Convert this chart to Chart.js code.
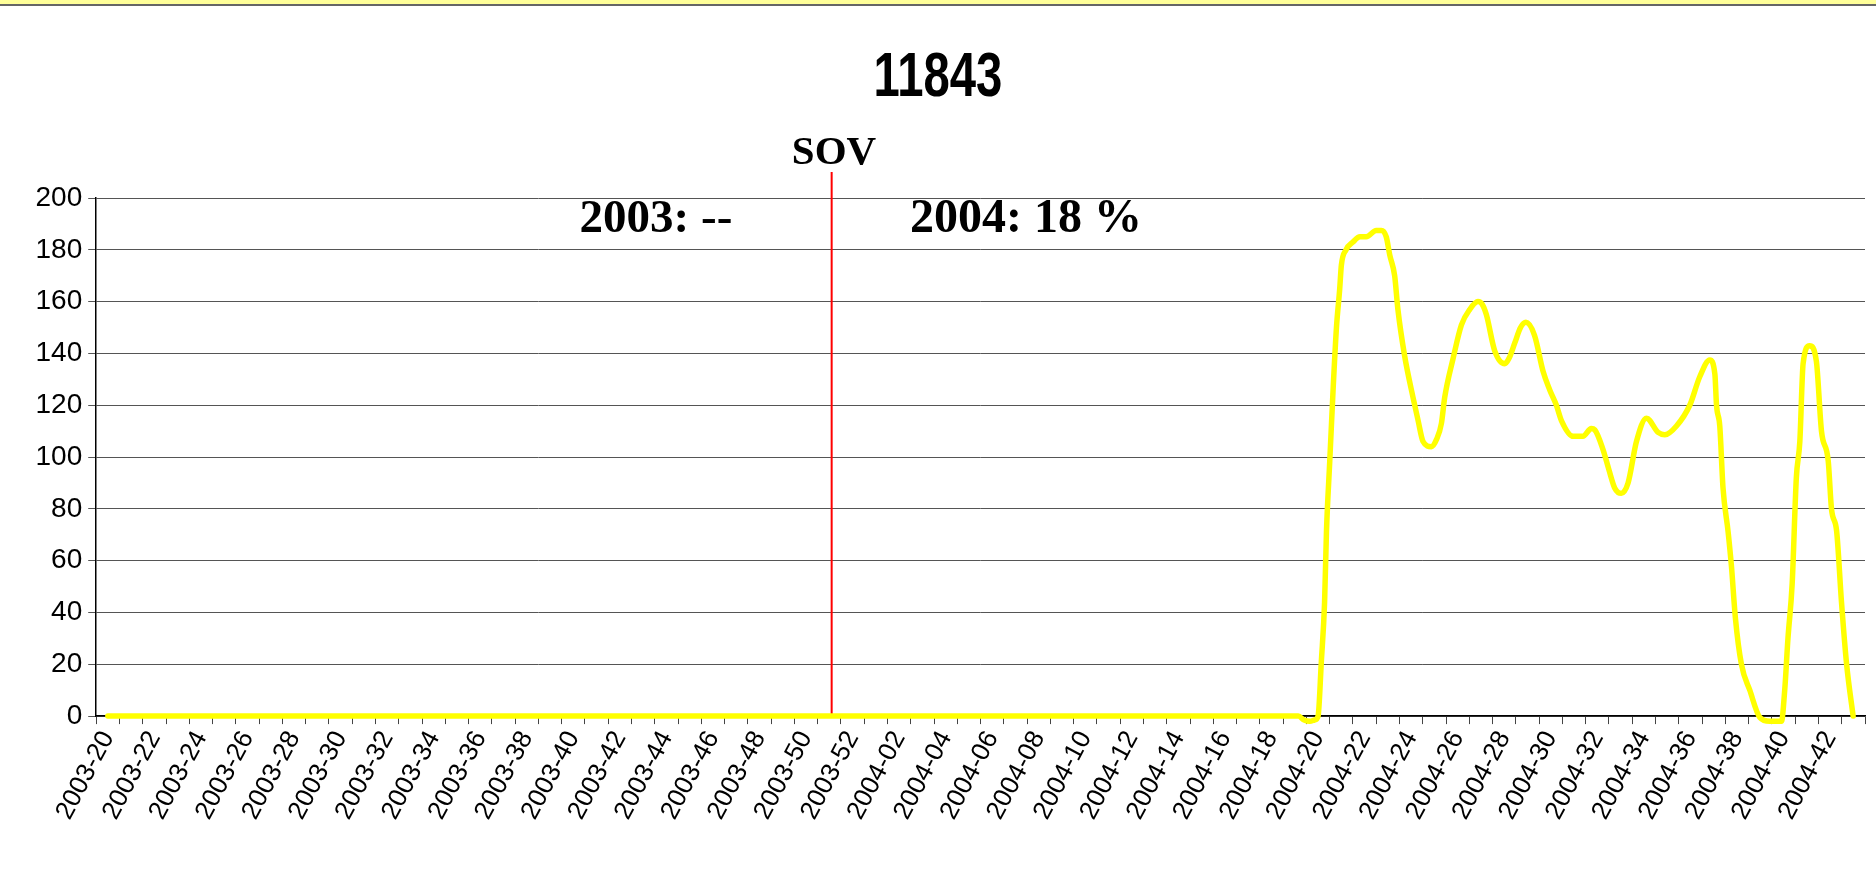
<!DOCTYPE html>
<html>
<head>
<meta charset="utf-8">
<title>11843</title>
<script src="https://cdn.jsdelivr.net/npm/chart.js@4.4.1/dist/chart.umd.min.js"></script>
<style>
  html, body { margin: 0; padding: 0; background: #fff; }
  #wrap { position: relative; width: 1876px; height: 882px; }
  #topBar { position: absolute; left: 0; top: 0; width: 100%; height: 4px; background: #ffff99; border-bottom: 2px solid #666; }
</style>
</head>
<body>
<div id="wrap">
  <canvas id="sovChart"></canvas>
  <div id="topBar"></div>
</div>
<script>
// week categories: 2003-20 .. 2004-43, only every second one is labelled
const weekLabels = [
  '2003-20','2003-21','2003-22','2003-23','2003-24','2003-25','2003-26','2003-27','2003-28','2003-29',
  '2003-30','2003-31','2003-32','2003-33','2003-34','2003-35','2003-36','2003-37','2003-38','2003-39',
  '2003-40','2003-41','2003-42','2003-43','2003-44','2003-45','2003-46','2003-47','2003-48','2003-49',
  '2003-50','2003-51','2003-52',
  '2004-01','2004-02','2004-03','2004-04','2004-05','2004-06','2004-07','2004-08','2004-09','2004-10',
  '2004-11','2004-12','2004-13','2004-14','2004-15','2004-16','2004-17','2004-18','2004-19','2004-20',
  '2004-21','2004-22','2004-23','2004-24','2004-25','2004-26','2004-27','2004-28','2004-29','2004-30',
  '2004-31','2004-32','2004-33','2004-34','2004-35','2004-36','2004-37','2004-38','2004-39','2004-40',
  '2004-41','2004-42','2004-43'
];
const yTicks = [0, 20, 40, 60, 80, 100, 120, 140, 160, 180, 200];

// position along the week axis (0 = 2003-20, fractions = days inside a week)
const weekPos = [
  0,1,2,3,4,5,6,7,8,9,10,11,12,13,14,15,16,17,18,19,20,21,22,23,24,25,
  26,27,28,29,30,31,32,33,34,35,36,37,38,39,40,41,42,43,44,45,46,47,48,49,50,51,
  51.15,51.4,51.65,51.85,52.0,52.14,52.28,52.36,52.5,52.64,52.79,52.93,53.0,53.2,53.5,53.8,
  54.07,54.5,54.72,54.93,55.08,55.29,55.43,55.72,56.08,56.3,56.51,56.87,57.1,57.3,57.44,57.8,
  58.16,58.52,58.87,59.05,59.23,59.59,60.02,60.2,60.45,60.7,60.93,61.3,61.67,61.95,62.24,62.46,
  62.96,63.38,63.74,63.89,64.24,64.5,64.75,65.03,65.32,65.68,66.11,66.61,66.9,67.4,67.97,68.4,
  68.83,69.05,69.12,69.26,69.4,69.62,69.76,69.93,70.19,70.55,70.98,71.41,71.91,72.05,72.19,72.37,
  72.55,72.7,72.84,73.12,73.41,73.63,73.92,74.06,74.28,74.49,74.71,74.99
];
const sovValues = [
  0,0,0,0,0,0,0,0,0,0,0,0,0,0,0,0,0,0,0,0,0,0,0,0,0,0,
  0,0,0,0,0,0,0,0,0,0,0,0,0,0,0,0,0,0,0,0,0,0,0,0,0,0,
  0,-1.5,-2,-1.5,0,21,44,71,98,125,150,165,174,180,183,185,
  185,187.5,187.5,185,178,170,157,139,123,114,106,104,107,113,123,138,
  151,157,160,159,155,141,136,138,144,150,152,147,133,126,120,114,
  108,108,111,110.5,103,95,88,86,90,106,115,109.5,108.6,112,120,131,
  137.5,132,120,112,88,71,58,38,20,10,-0.5,-2,-2,10,30,51,
  92,106,136,143,137,110,98.5,80,71.5,44,20,0
];

const chartTitle = '11843';
const sovWeek = 31.1;                 // position of the SOV marker
const yearNotes = ['2003: --', '2004: 18 %'];
const yearNoteWeeks = [23.55, 39.45];

const serif = "'Liberation Serif', 'Times New Roman', serif";
const sans = "'Liberation Sans', Arial, sans-serif";

const sovMarkerPlugin = {
  id: 'sovMarker',
  beforeDatasetsDraw(chart) {
    const {ctx, scales: {x, y}} = chart;
    const px = x.getPixelForValue(sovWeek);
    ctx.save();
    ctx.strokeStyle = '#ff0000';
    ctx.lineWidth = 2;
    ctx.beginPath();
    ctx.moveTo(px, y.getPixelForValue(210));
    ctx.lineTo(px, y.getPixelForValue(0));
    ctx.stroke();
    ctx.restore();
  },
  afterDraw(chart) {
    const {ctx, scales: {x, y}} = chart;
    ctx.save();
    ctx.fillStyle = '#000';
    ctx.textAlign = 'center';
    ctx.textBaseline = 'alphabetic';
    // narrow bold title, squeezed like the original
    ctx.save();
    ctx.translate(chart.width / 2, 96);
    ctx.scale(0.75, 1);
    ctx.font = `bold 63px ${sans}`;
    ctx.fillText(chartTitle, 0, 0);
    ctx.restore();
    ctx.font = `bold 41px ${serif}`;
    ctx.fillText('SOV', x.getPixelForValue(sovWeek + 0.1), y.getPixelForValue(213));
    ctx.font = `bold 47px ${serif}`;
    ctx.fillText(yearNotes[0], x.getPixelForValue(yearNoteWeeks[0]), y.getPixelForValue(187));
    ctx.font = `bold 48px ${serif}`;
    ctx.fillText(yearNotes[1], x.getPixelForValue(yearNoteWeeks[1]), y.getPixelForValue(187));
    ctx.restore();
  }
};

new Chart(document.getElementById('sovChart'), {
  type: 'line',
  data: {
    datasets: [{
      data: weekPos.map((w, i) => ({ x: w, y: sovValues[i] })),
      borderColor: '#ffff00',
      borderWidth: 5.5,
      pointRadius: 0,
      cubicInterpolationMode: 'monotone',
      borderCapStyle: 'round',
      borderJoinStyle: 'round',
      fill: false,
      clip: false
    }]
  },
  options: {
    responsive: true,
    maintainAspectRatio: false,
    animation: false,
    layout: { padding: { left: 29.5, right: 11, top: 198, bottom: 55 } },
    plugins: {
      legend: { display: false },
      tooltip: { enabled: false },
      title: { display: false }
    },
    scales: {
      x: {
        type: 'linear',
        min: -0.5,
        max: weekLabels.length - 0.5,
        afterBuildTicks: (scale) => { scale.ticks = weekLabels.map((_, i) => ({ value: i })); },
        // rotated labels fit inside the margins, no extra side padding wanted
        afterFit: (scale) => { scale.paddingLeft = 0; scale.paddingRight = 0; },
        ticks: {
          autoSkip: false,
          minRotation: 62,
          maxRotation: 62,
          color: '#000',
          padding: 2,
          font: { family: sans, size: 26 },
          callback: (v) => (v % 2 === 0 ? weekLabels[v] : '')
        },
        grid: { drawOnChartArea: false, offset: true, tickLength: 8, color: '#444' },
        border: { color: '#000', width: 1.5 }
      },
      y: {
        min: 0,
        max: 200,
        afterBuildTicks: (scale) => { scale.ticks = yTicks.map(v => ({ value: v })); },
        ticks: { color: '#000', padding: 6, font: { family: sans, size: 28 } },
        grid: { color: '#555', tickLength: 8 },
        border: { color: '#000', width: 1.5 }
      }
    }
  },
  plugins: [sovMarkerPlugin]
});
</script>
</body>
</html>
